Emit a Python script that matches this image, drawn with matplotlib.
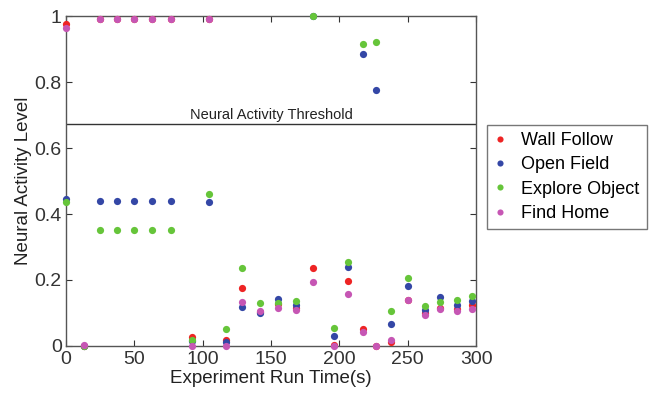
import matplotlib
matplotlib.use('Agg')
import matplotlib.pyplot as plt
from matplotlib.ticker import FuncFormatter

plt.rcParams['font.family'] = ['Liberation Sans', 'DejaVu Sans']

# sample times (s)
t = [0, 13, 25, 37, 50, 63, 77, 92, 105, 117, 129, 142, 155, 168, 181,
     196, 206, 217, 227, 238, 250, 263, 274, 286, 297]

wall_follow = [0.975, 0.0, 0.99, 0.99, 0.99, 0.99, 0.99, 0.026, 0.992, 0.018,
               0.175, 0.104, 0.126, 0.115, 0.235, 0.002, 0.198, 0.052,
               0.0, 0.013, 0.14, 0.1, 0.114, 0.112, 0.124]
open_field = [0.445, 0.0, 0.44, 0.44, 0.44, 0.44, 0.44, 0.015, 0.435, 0.011,
              0.119, 0.099, 0.141, 0.124, 1.0, 0.03, 0.24, 0.885,
              0.776, 0.066, 0.182, 0.109, 0.148, 0.124, 0.136]
explore_object = [0.437, 0.0, 0.353, 0.353, 0.353, 0.353, 0.353, 0.018, 0.46,
                  0.05, 0.235, 0.129, 0.129, 0.137, 1.0, 0.055, 0.254,
                  0.917, 0.922, 0.106, 0.205, 0.121, 0.134, 0.139, 0.152]
find_home = [0.965, 0.003, 0.99, 0.99, 0.99, 0.99, 0.99, 0.0, 0.99, 0.0,
             0.132, 0.106, 0.114, 0.109, 0.193, 0.0, 0.157, 0.042,
             0.0, 0.018, 0.139, 0.094, 0.112, 0.106, 0.112]

threshold = 0.673

series = [
    ('Wall Follow', wall_follow, '#ee2424'),
    ('Open Field', open_field, '#3447a6'),
    ('Explore Object', explore_object, '#66c53a'),
    ('Find Home', find_home, '#c656b4'),
]

fig = plt.figure(figsize=(6.53, 3.94), dpi=100)
ax = fig.add_axes([0.101, 0.122, 0.628, 0.837])

for name, vals, col in series:
    ax.plot(t, vals, 'o', color=col, markersize=5.2, markeredgewidth=0,
            label=name, clip_on=False, zorder=3)

ax.axhline(threshold, color='#333333', lw=1.0)
ax.text(150, threshold + 0.005, 'Neural Activity Threshold', ha='center',
        va='bottom', fontsize=10.5, color='#222222')

ax.set_xlim(0, 300)
ax.set_ylim(0, 1)
ax.set_xticks(range(0, 301, 50))
ax.set_yticks([0, 0.2, 0.4, 0.6, 0.8, 1.0])
ax.yaxis.set_major_formatter(FuncFormatter(lambda v, p: '%g' % v))
ax.tick_params(direction='in', length=4, labelsize=14, colors='#333333',
               top=True, right=True)
ax.tick_params(axis='x', pad=4)
ax.tick_params(axis='y', pad=3)
for s in ax.spines.values():
    s.set_color('#555555')
    s.set_linewidth(1.0)

ax.set_xlabel('Experiment Run Time(s)', fontsize=13.5, color='#222222',
              labelpad=1)
ax.set_ylabel('Neural Activity Level', fontsize=13.5, color='#222222',
              labelpad=2)

leg = ax.legend(loc='upper left', bbox_to_anchor=(1.027, 0.67), fontsize=13,
                frameon=True, fancybox=False, handlelength=0.6,
                handletextpad=0.9, borderpad=0.4, labelspacing=0.4,
                markerscale=0.85, borderaxespad=0)
leg.get_frame().set_edgecolor('#555555')
leg.get_frame().set_linewidth(1.0)

fig.savefig('out.png', dpi=100)
